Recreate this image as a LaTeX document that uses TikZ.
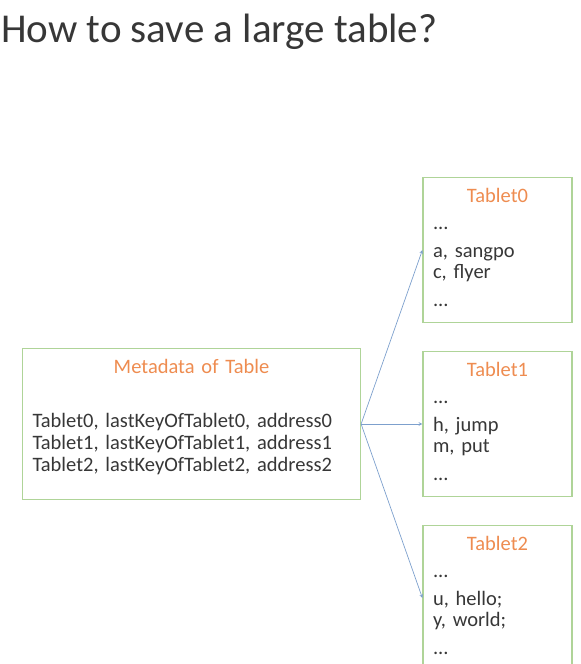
\documentclass[tikz,border=0pt]{standalone}
\usepackage{fontspec}
\setmainfont{Carlito}
\usepackage{tikz}
\usetikzlibrary{arrows}
\frenchspacing
\definecolor{boxgreen}{RGB}{175,212,152}
\definecolor{titleorange}{RGB}{238,140,80}
\definecolor{textgray}{RGB}{55,55,55}
\definecolor{arrowblue}{RGB}{125,160,205}
\tikzstyle{meta} = [rectangle, minimum width=338pt, minimum height=150pt, text width=318pt, inner sep=10pt, align=left, draw=boxgreen, line width=1.2pt, text=textgray]
\tikzstyle{tablet} = [rectangle, minimum width=149pt, minimum height=145pt, text width=129pt, inner sep=10pt, align=left, draw=boxgreen, line width=1.2pt, text=textgray]
\tikzstyle{arrow} = [->,>=stealth, draw=arrowblue, line width=0.7pt]
\newcommand{\boxtitle}[1]{\makebox[\hsize]{\color{titleorange}#1}}

\begin{document}
\begin{tikzpicture}[node distance=174pt, font=\fontsize{20.5}{22}\selectfont]
    \useasboundingbox (0,0) rectangle (581pt,-664pt);
    \clip (0,0) rectangle (581pt,-664pt);
    \node (title) [anchor=base west, inner sep=0pt, text=textgray, font=\fontsize{41}{49}\selectfont] at (1pt,-42.5pt) {How to save a large table?};

    \node (meta) [meta] at (191.5pt,-424pt) {\boxtitle{Metadata of Table}\\[32pt]
        Tablet0, lastKeyOfTablet0, address0\\
        Tablet1, lastKeyOfTablet1, address1\\
        Tablet2, lastKeyOfTablet2, address2\\[-4pt]\mbox{}};
    \node (tablet1) [tablet, right of=meta, xshift=132pt] {\boxtitle{Tablet1}\\[5pt] ...\\[6pt] h, jump\\[-1pt] m, put\\[6pt] ...\\[-17pt]\mbox{}};
    \node (tablet0) [tablet, above of=tablet1] {\boxtitle{Tablet0}\\[5pt] ...\\[6pt] a, sangpo\\[-1pt] c, flyer\\[6pt] ...\\[-17pt]\mbox{}};
    \node (tablet2) [tablet, below of=tablet1] {\boxtitle{Tablet2}\\[5pt] ...\\[6pt] u, hello;\\[-1pt] y, world;\\[6pt] ...\\[-17pt]\mbox{}};

    \draw [arrow] (meta.east) -- (tablet0.west);
    \draw [arrow] (meta.east) -- (tablet1.west);
    \draw [arrow] (meta.east) -- (tablet2.west);
\end{tikzpicture}
\end{document}
